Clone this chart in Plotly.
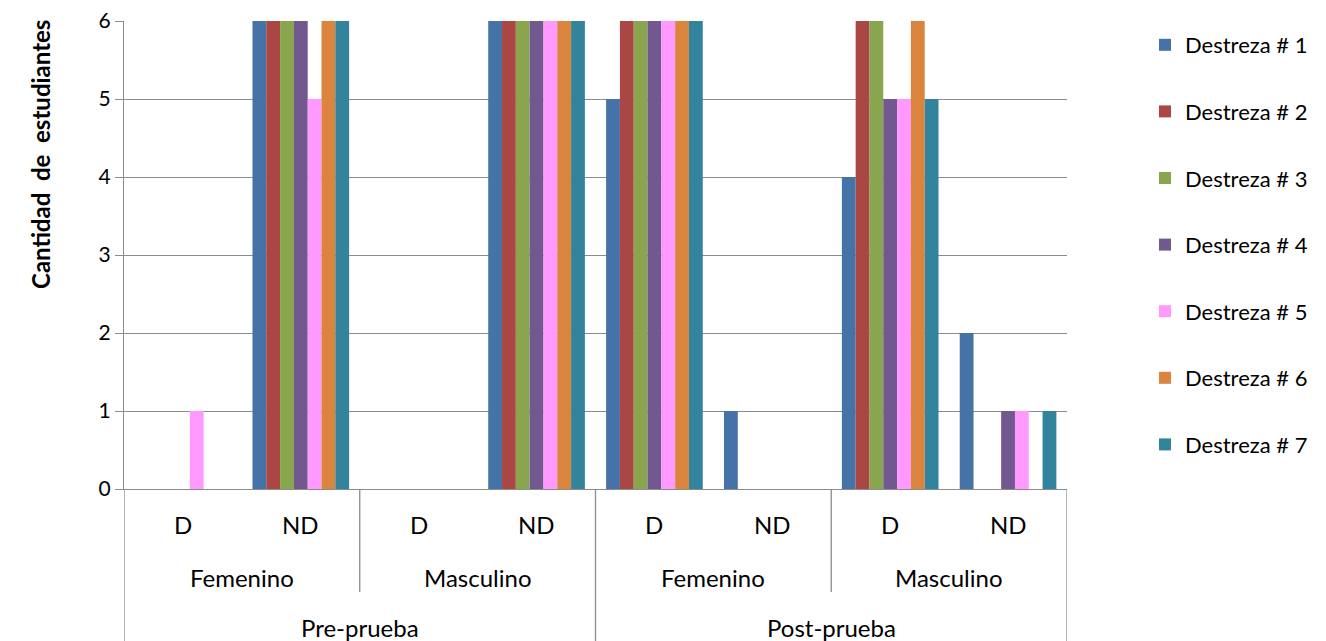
import plotly.graph_objects as go

# ---- data ----
fases = ["Pre-prueba", "Post-prueba"]
sexos = ["Femenino", "Masculino"]
niveles = ["D", "ND"]
series_names = ["Destreza # 1", "Destreza # 2", "Destreza # 3", "Destreza # 4",
                "Destreza # 5", "Destreza # 6", "Destreza # 7"]
# category order: Pre-Fem-D, Pre-Fem-ND, Pre-Masc-D, Pre-Masc-ND, Post-Fem-D, Post-Fem-ND, Post-Masc-D, Post-Masc-ND
destreza_1 = [0, 6, 0, 6, 5, 1, 4, 2]
destreza_2 = [0, 6, 0, 6, 6, 0, 6, 0]
destreza_3 = [0, 6, 0, 6, 6, 0, 6, 0]
destreza_4 = [0, 6, 0, 6, 6, 0, 5, 1]
destreza_5 = [1, 5, 0, 6, 6, 0, 5, 1]
destreza_6 = [0, 6, 0, 6, 6, 0, 6, 0]
destreza_7 = [0, 6, 0, 6, 6, 0, 5, 1]
values = [destreza_1, destreza_2, destreza_3, destreza_4, destreza_5, destreza_6, destreza_7]
colors = ["#4572A7", "#AA4643", "#89A54E", "#71588F", "#FF99FF", "#DB843D", "#31849B"]

FONT = "Lato"
OFF = 8  # page body margin
W, H = 1326 - OFF, 641 - OFF
# plot area in reference pixel coords
PL, PR, PT, PB = 124, 1067, 21, 489
ml, mr, mt, mb = PL - OFF, W - (PR - OFF), PT - OFF, H - (PB - OFF)
ph = PB - PT
pw = PR - PL

def py(px):  # reference pixel y -> paper y
    return (PB - px) / ph

def pxx(px):  # reference pixel x -> paper x
    return (px - PL) / pw

n_cat = len(fases) * len(sexos) * len(niveles)
xs = list(range(n_cat))

fig = go.Figure()
for i, (name, vals) in enumerate(zip(series_names, values)):
    fig.add_trace(go.Bar(x=xs, y=vals, name=name, marker_color=colors[i],
                         marker_line_width=0, legendgroup=name))

annotations = []
shapes = []
axis_col = "#8c8c8c"
tfont = dict(family=FONT, size=24, color="#000000")
k = 0
for f in fases:
    for s in sexos:
        for nv in niveles:
            annotations.append(dict(x=k, y=py(524), xref="x", yref="paper", text=nv,
                                    showarrow=False, font=tfont, xanchor="center", yanchor="middle"))
            k += 1
k = 0
for f in fases:
    for s in sexos:
        annotations.append(dict(x=k + 0.5, y=py(577), xref="x", yref="paper", text=s,
                                showarrow=False, font=tfont, xanchor="center", yanchor="middle"))
        k += 2
for j, f in enumerate(fases):
    annotations.append(dict(x=j * 4 + 1.5, y=py(627), xref="x", yref="paper", text=f,
                            showarrow=False, font=tfont, xanchor="center", yanchor="middle"))

for xd in [-0.5, 3.5, 7.5]:
    shapes.append(dict(type="line", xref="x", yref="paper", x0=xd, x1=xd,
                       y0=0, y1=py(645), line=dict(color=axis_col, width=1.3)))
for xd in [1.5, 5.5]:
    shapes.append(dict(type="line", xref="x", yref="paper", x0=xd, x1=xd,
                       y0=0, y1=py(592), line=dict(color=axis_col, width=1.3)))

annotations.append(dict(x=pxx(40), y=py(155), xref="paper", yref="paper",
                        text="<b>Cantidad  de  estudiantes</b>", textangle=-90, showarrow=False,
                        xanchor="center", yanchor="middle",
                        font=dict(family=FONT, size=24, color="#000000")))

fig.update_layout(
    width=W, height=H,
    margin=dict(l=ml, r=mr, t=mt, b=mb, autoexpand=False),
    plot_bgcolor="white", paper_bgcolor="white",
    barmode="group", bargap=0.18, bargroupgap=0,
    font=dict(family=FONT, size=20, color="#000000"),
    xaxis=dict(range=[-0.5, 7.5], showticklabels=False, showgrid=False, zeroline=False,
               showline=True, linecolor=axis_col, linewidth=1.3, ticks="", automargin=False),
    yaxis=dict(range=[0, 6], dtick=1, showgrid=True, gridcolor=axis_col, gridwidth=1.3,
               zeroline=False, showline=True, linecolor=axis_col, linewidth=1.3,
               ticks="outside", ticklen=8, tickcolor=axis_col, tickwidth=1.3, automargin=False,
               ticklabeloverflow="allow",
               tickfont=dict(family=FONT, size=21, color="#000000")),
    legend=dict(x=pxx(1145), y=py(24), xanchor="left", yanchor="top",
                tracegroupgap=35, font=dict(family=FONT, size=22, color="#000000"),
                bgcolor="rgba(0,0,0,0)"),
    annotations=annotations,
    shapes=shapes,
)

fig.write_html("out.html")
